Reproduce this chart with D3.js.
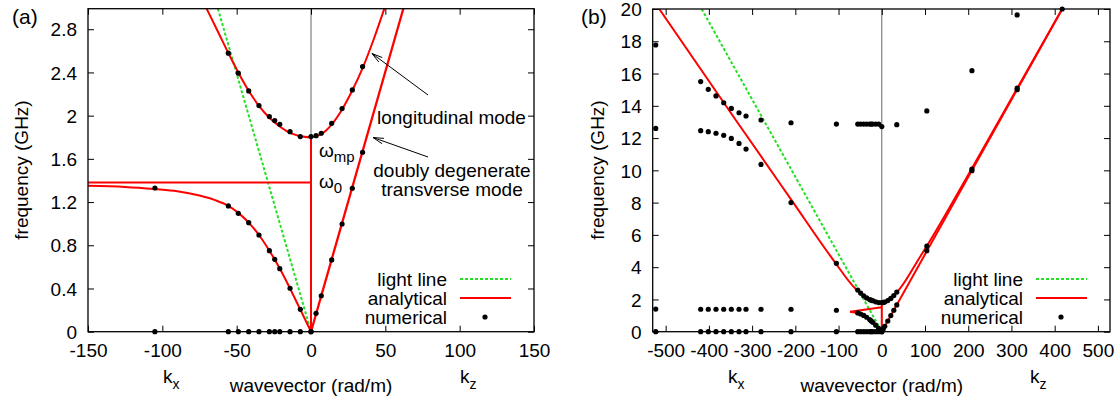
<!DOCTYPE html>
<html>
<head>
<meta charset="utf-8">
<script src="https://cdn.jsdelivr.net/npm/d3@7"></script>
<style>
  body { margin: 0; background: #fff; }
  svg { display: block; }
</style>
</head>
<body>
<div id="chart"></div>
<script>
// ---- numerical data (GHz) ----
// k_x side: one k list, four bands of frequencies
var kx = [-523, -419, -401.4, -383.6, -365.7, -348.1, -330.3, -314.1, -279.4, -210, -105,
          -55.6, -48.9, -41.9, -35.0, -28.0, -24.4, -21.0, -14.1, -7.2, 0];
var fxZero = kx.map(function(){ return 0 });
var fxLow  = [1.40, 1.39, 1.39, 1.39, 1.39, 1.39, 1.39, 1.39, 1.39, 1.39, 1.33,
              1.164, 1.096, 1.009, 0.895, 0.750, 0.670, 0.583, 0.402, 0.207, 0];
var fxMid  = [12.6, 12.46, 12.40, 12.30, 12.17, 11.98, 11.67, 11.32, 10.37, 8.0, 4.24,
              2.578, 2.393, 2.229, 2.093, 1.991, 1.954, 1.920, 1.852, 1.806, 1.806];
var fxHigh = [17.77, 15.5, 15.02, 14.61, 14.19, 13.84, 13.57, 13.37, 13.12, 12.95, 12.87,
              12.87, 12.87, 12.87, 12.87, 12.87, 12.87, 12.87, 12.87, 12.87, 12.71];
// k_z side
var kz       = [3.4, 6.9, 13.9, 20.9, 27.8, 34.7, 104.2, 208.6, 313.2, 417.4];
var fzTrans  = [0.170, 0.333, 0.664, 0.997, 1.328, 1.661, 5.02, 9.98, 15.0, 20.0];
var fzLong   = [1.815, 1.837, 1.929, 2.065, 2.238, 2.454, 5.31, 10.08, 15.1, null];
var fzHigh   = [null, null, null, null, null, 12.83, 13.68, 16.18, 19.63, null];

// ---- analytical curves, panel (a) ----
var aXupK  = [-70.2, -62, -55.6, -48.9, -41.9, -35, -28, -21, -14.1, -7.2, 0];
var aXupF  = [2.99, 2.76, 2.58, 2.40, 2.23, 2.09, 1.98, 1.90, 1.84, 1.81, 1.80];
var aXlowK = [-150, -125, -105, -90, -75, -65, -55.6, -48.9, -41.9, -35, -28, -21, -14.1, -7.2, 0];
var aXlowF = [1.35, 1.34, 1.32, 1.30, 1.26, 1.22, 1.165, 1.10, 1.01, 0.895, 0.75, 0.585, 0.40, 0.205, 0];
var aZupK  = [0, 7, 14, 21, 28, 35, 42, 49.3];
var aZupF  = [1.80, 1.83, 1.92, 2.06, 2.24, 2.45, 2.70, 2.99];
var aTrK = [0, 62.1],  aTrF = [0, 2.99];
var aW0K = [-150, 0],  aW0F = [1.38, 1.38];
var aVK  = [0, 0],     aVF  = [0, 1.80];
var aLiK = [-62.6, 0], aLiF = [2.99, 0];

// ---- analytical curves, panel (b) ----
var bXupK  = [-514.8, -337.9, -210, -112, -61.8, -40, -20, 0];
var bXupF  = [20, 13.12, 8.2, 4.44, 2.69, 2.2, 1.9, 1.76];
var bXlowK = [-73.5, -55.6, -41.9, -28, -14.1, 0];
var bXlowF = [1.24, 1.15, 1.01, 0.75, 0.40, 0];
var bZupK  = [0, 20, 42.4, 88.7, 104.2, 209, 313, 417.4];
var bZupF  = [1.78, 2.05, 2.69, 4.65, 5.31, 10.15, 15.08, 20];
var bTrK = [0, 417.4],  bTrF = [0, 20];
var bW0K = [-73.5, 0],  bW0F = [1.24, 1.52];
var bVK  = [0, 0],      bVF  = [0, 1.76];
var bLiK = [-416.7, 0], bLiF = [20, 0];

// ---- ticks ----
var aXticks = [-150, -100, -50, 0, 50, 100, 150];
var aYticks = [0, 0.4, 0.8, 1.2, 1.6, 2, 2.4, 2.8];
var bXticks = [-500, -400, -300, -200, -100, 0, 100, 200, 300, 400, 500];
var bYticks = [0, 2, 4, 6, 8, 10, 12, 14, 16, 18, 20];
var legendNames = ['light line', 'analytical', 'numerical'];

var W = 1120, H = 403;
var FONT = '"Liberation Sans", Arial, sans-serif';
var FS = 19;
var RED = '#ff0000', GREEN = '#22e022';

var svg = d3.select('#chart').append('svg').attr('width', W).attr('height', H);

function txt(g, x, y, s, anchor, size){
  return g.append('text')
    .attr('x', x).attr('y', y)
    .attr('text-anchor', anchor || 'start')
    .style('font-family', FONT)
    .style('font-size', (size || FS) + 'px')
    .style('fill', '#000')
    .text(s)
}

function sub(g, x, y, base, s){
  var t = txt(g, x, y, base)
  t.append('tspan').attr('dy', 6).style('font-size', '14px').text(s)
  return t
}

function pairs(ks, fs){
  var out = []
  ks.forEach(function(k, i){ if(fs[i] != null) out.push([k, fs[i]]) })
  return out
}

function panel(o){
  var x = d3.scaleLinear().domain(o.xd).range([o.left, o.right])
  var y = d3.scaleLinear().domain(o.yd).range([o.bottom, o.top])
  var g = svg.append('g')
  var id = 'clip_' + o.name

  svg.append('defs').append('clipPath').attr('id', id)
    .append('rect').attr('x', o.left).attr('y', o.top)
    .attr('width', o.right - o.left).attr('height', o.bottom - o.top)

  // zero axis
  g.append('line')
    .attr('x1', x(0)).attr('x2', x(0)).attr('y1', o.top).attr('y2', o.bottom)
    .style('stroke', '#666').style('stroke-width', 1)

  // axes, ticks pointing inward on all four sides
  var fmt = function(d){ return String(d) }
  var bx = g.append('g').attr('transform', 'translate(0,' + o.bottom + ')')
    .call(d3.axisBottom(x).tickValues(o.xt).tickSize(-6).tickSizeOuter(0).tickFormat(fmt))
  bx.selectAll('text').attr('y', 25).attr('dy', null)
  g.append('g').attr('transform', 'translate(0,' + o.top + ')')
    .call(d3.axisTop(x).tickValues(o.xt).tickSize(-6).tickSizeOuter(0).tickFormat(''))
  var ly = g.append('g').attr('transform', 'translate(' + o.left + ',0)')
    .call(d3.axisLeft(y).tickValues(o.yt).tickSize(-6).tickSizeOuter(0).tickFormat(fmt))
  ly.selectAll('text').attr('x', -11).attr('dy', '0.35em')
  g.append('g').attr('transform', 'translate(' + o.right + ',0)')
    .call(d3.axisRight(y).tickValues(o.yt).tickSize(-6).tickSizeOuter(0).tickFormat(''))
  g.selectAll('.domain').remove()
  g.selectAll('.tick line').style('stroke', '#000')
  g.selectAll('.tick text').style('font-family', FONT).style('font-size', FS + 'px').style('fill', '#000')

  var line = d3.line().x(function(d){ return x(d[0]) }).y(function(d){ return y(d[1]) })
    .curve(d3.curveMonotoneX)
  var plot = g.append('g').attr('clip-path', 'url(#' + id + ')')

  plot.append('path').datum(pairs(o.light[0], o.light[1]))
    .attr('d', line).style('fill', 'none').style('stroke', GREEN)
    .style('stroke-width', 2).style('stroke-dasharray', '3,2')

  o.curves.forEach(function(c){
    plot.append('path').datum(pairs(c[0], c[1]))
      .attr('d', line).style('fill', 'none').style('stroke', RED)
      .style('stroke-width', c[2] || 2)
  })

  var pts = []
  o.dots.forEach(function(b){ pts = pts.concat(pairs(b[0], b[1])) })
  pts = pts.filter(function(p){
    return p[0] >= o.xd[0] && p[0] <= o.xd[1] && p[1] >= o.yd[0] && p[1] <= o.yd[1] + 0.01
  })
  g.append('g').selectAll('circle').data(pts).enter().append('circle')
    .attr('cx', function(d){ return x(d[0]) }).attr('cy', function(d){ return y(d[1]) })
    .attr('r', 2.6).style('fill', '#000')

  // frame
  g.append('rect').attr('x', o.left).attr('y', o.top)
    .attr('width', o.right - o.left).attr('height', o.bottom - o.top)
    .style('fill', 'none').style('stroke', '#000').style('stroke-width', 1.3)

  // legend
  var lg = g.append('g')
  legendNames.forEach(function(n, i){
    var yy = o.legY + i * 19
    txt(lg, o.legX, yy + 7, n, 'end')
    if(i == 0)
      lg.append('line').attr('x1', o.legX + 13).attr('x2', o.legX + 64).attr('y1', yy).attr('y2', yy)
        .style('stroke', GREEN).style('stroke-width', 2).style('stroke-dasharray', '3,2')
    if(i == 1)
      lg.append('line').attr('x1', o.legX + 13).attr('x2', o.legX + 64).attr('y1', yy).attr('y2', yy)
        .style('stroke', RED).style('stroke-width', 2)
    if(i == 2)
      lg.append('circle').attr('cx', o.legX + 38).attr('cy', yy).attr('r', 2.6).style('fill', '#000')
  })

  // axis titles
  txt(g, 0, 0, 'frequency (GHz)', 'middle')
    .attr('transform', 'translate(' + o.yLabX + ',170) rotate(-90)')
  txt(g, x(0), 392, 'wavevector (rad/m)', 'middle')
  sub(g, o.kxX, 383, 'k', 'x')
  sub(g, o.kzX, 383, 'k', 'z')
  txt(g, o.tagX, 24, o.tag, 'start', 21)
  return {x: x, y: y, g: g}
}

var pa = panel({
  name: 'a', tag: '(a)', tagX: 12,
  left: 88, right: 534, top: 8.7, bottom: 331.7,
  xd: [-150, 150], yd: [0, 2.99], xt: aXticks, yt: aYticks,
  yLabX: 28, kxX: 163, kzX: 460, legX: 447, legY: 279,
  light: [aLiK, aLiF],
  curves: [[aXupK, aXupF], [aXlowK, aXlowF], [aZupK, aZupF], [aTrK, aTrF, 2.3],
           [aW0K, aW0F], [aVK, aVF]],
  dots: [[kx, fxZero], [kx, fxLow], [kx, fxMid], [kx, fxHigh],
         [kz, fzTrans], [kz, fzLong], [kz, fzHigh]]
})

var pb = panel({
  name: 'b', tag: '(b)', tagX: 581,
  left: 652.7, right: 1110, top: 9, bottom: 331.7,
  xd: [-530, 528], yd: [0, 20], xt: bXticks, yt: bYticks,
  yLabX: 604, kxX: 728, kzX: 1030, legX: 1023, legY: 279,
  light: [bLiK, bLiF],
  curves: [[bXupK, bXupF], [bXlowK, bXlowF], [bZupK, bZupF], [bTrK, bTrF],
           [bW0K, bW0F], [bVK, bVF]],
  dots: [[kx, fxZero], [kx, fxLow], [kx, fxMid], [kx, fxHigh],
         [kz, fzTrans], [kz, fzLong], [kz, fzHigh]]
})

// annotations in panel (a)
var ag = pa.g.append('g')
function arrow(x1, y1, x2, y2){
  var a = Math.atan2(y2 - y1, x2 - x1), L = 11, s = 0.26
  ag.append('path')
    .attr('d', 'M' + x1 + ',' + y1 + 'L' + x2 + ',' + y2 +
      'M' + (x2 - L * Math.cos(a - s)) + ',' + (y2 - L * Math.sin(a - s)) + 'L' + x2 + ',' + y2 +
      'L' + (x2 - L * Math.cos(a + s)) + ',' + (y2 - L * Math.sin(a + s)))
    .style('fill', 'none').style('stroke', '#000').style('stroke-width', 1)
}
arrow(428, 95, 372, 53.5)
arrow(428, 157, 373, 137.5)
txt(ag, 377, 124, 'longitudinal mode')
txt(ag, 452, 177, 'doubly degenerate', 'middle')
txt(ag, 452, 196, 'transverse mode', 'middle')
var om = txt(ag, 319, 157, '\u03c9')
om.append('tspan').attr('dy', 5).style('font-size', '15px').text('mp')
var o0 = txt(ag, 319, 188, '\u03c9')
o0.append('tspan').attr('dy', 5).style('font-size', '15px').text('0')
</script>
</body>
</html>
